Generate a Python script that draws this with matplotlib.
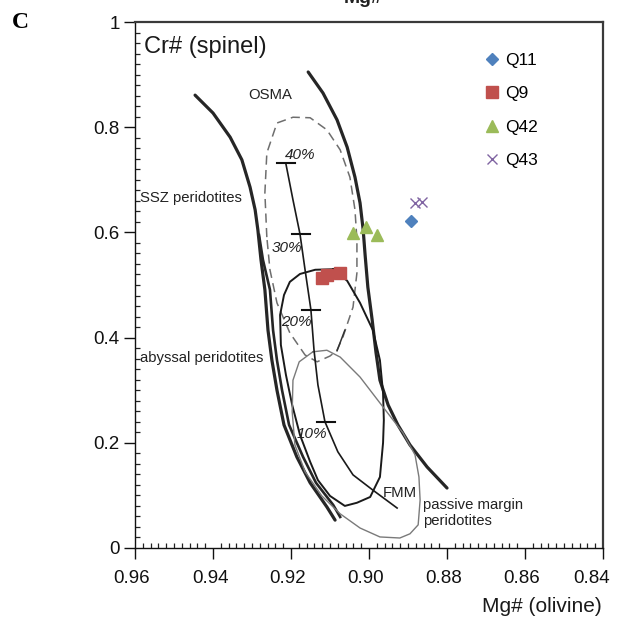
import matplotlib
matplotlib.use("Agg")
import matplotlib.pyplot as plt
from matplotlib.ticker import MultipleLocator, FixedLocator, FuncFormatter
from matplotlib.transforms import ScaledTranslation

plt.rcParams['font.family'] = ['Liberation Sans', 'DejaVu Sans']

# ---------------- sample data ----------------
q11_x = [0.8892]
q11_y = [0.621]
q9_x = [0.9121, 0.9108, 0.9074]
q9_y = [0.513, 0.519, 0.522]
q42_x = [0.9041, 0.9008, 0.8979]
q42_y = [0.599, 0.610, 0.595]
q43_x = [0.8882, 0.8864]
q43_y = [0.656, 0.658]

# ---------------- reference fields (traced) ----------------
osma_left_x = [0.9446, 0.9400, 0.9356, 0.9326, 0.9305, 0.9292, 0.9285, 0.9277, 0.9267,
               0.9259, 0.9249, 0.9236, 0.9218, 0.9185, 0.9151, 0.9108, 0.9087]
osma_left_y = [0.861, 0.827, 0.781, 0.738, 0.686, 0.643, 0.605, 0.548, 0.491,
               0.414, 0.357, 0.300, 0.234, 0.173, 0.124, 0.078, 0.053]

osma_left2_x = [0.9282, 0.9272, 0.9254, 0.9246, 0.9236, 0.9223, 0.9205, 0.9169, 0.9136,
                0.9092, 0.9074]
osma_left2_y = [0.595, 0.548, 0.491, 0.414, 0.357, 0.300, 0.234, 0.173, 0.124,
                0.082, 0.059]

osma_right_x = [0.9156, 0.9118, 0.9082, 0.9056, 0.9036, 0.9023, 0.9015, 0.9010, 0.9003,
                0.8992, 0.8982, 0.8972, 0.8951, 0.8926, 0.8895, 0.8851, 0.8800]
osma_right_y = [0.905, 0.865, 0.814, 0.762, 0.705, 0.656, 0.605, 0.557, 0.496,
                0.434, 0.371, 0.319, 0.272, 0.234, 0.196, 0.154, 0.114]

ssz_x = [0.9262, 0.9267, 0.9262, 0.9236, 0.9195, 0.9151, 0.9108, 0.9074, 0.9049, 0.9036,
         0.9031, 0.9031, 0.9041, 0.9067, 0.9082, 0.9100, 0.9133, 0.9164, 0.9203, 0.9236,
         0.9254, 0.9262]
ssz_y = [0.591, 0.675, 0.751, 0.808, 0.819, 0.818, 0.795, 0.757, 0.705, 0.643,
         0.586, 0.523, 0.458, 0.401, 0.376, 0.365, 0.354, 0.367, 0.409, 0.466,
         0.529, 0.591]

junction_x = [0.9062, 0.9082]
junction_y = [0.414, 0.375]

abyssal_x = [0.9092, 0.9056, 0.9023, 0.8990, 0.8972, 0.8964, 0.8962, 0.8964, 0.8972,
             0.8997, 0.9031, 0.9062, 0.9100, 0.9131, 0.9151, 0.9177, 0.9197, 0.9213,
             0.9226, 0.9228, 0.9218, 0.9203, 0.9177, 0.9138, 0.9092]
abyssal_y = [0.530, 0.508, 0.466, 0.414, 0.357, 0.295, 0.243, 0.200, 0.135,
             0.097, 0.086, 0.080, 0.099, 0.129, 0.164, 0.215, 0.272, 0.329,
             0.386, 0.443, 0.481, 0.506, 0.521, 0.529, 0.530]

passive_x = [0.9144, 0.9108, 0.9074, 0.9023, 0.8964, 0.8913, 0.8882, 0.8872, 0.8869,
             0.8874, 0.8895, 0.8921, 0.8972, 0.9023, 0.9074, 0.9121, 0.9164, 0.9190,
             0.9197, 0.9195, 0.9179, 0.9144]
passive_y = [0.373, 0.376, 0.363, 0.325, 0.268, 0.219, 0.177, 0.135, 0.091,
             0.044, 0.027, 0.019, 0.021, 0.038, 0.065, 0.099, 0.145, 0.196,
             0.259, 0.319, 0.354, 0.373]

melt_x = [0.9213, 0.9195, 0.9177, 0.9164, 0.9149, 0.9141, 0.9131, 0.9113, 0.9080,
          0.9041, 0.8990, 0.8928]
melt_y = [0.730, 0.662, 0.597, 0.529, 0.453, 0.376, 0.310, 0.240, 0.183,
          0.139, 0.110, 0.076]

melt_tick_x = [0.9213, 0.9174, 0.9149, 0.9110]
melt_tick_y = [0.732, 0.597, 0.453, 0.240]
melt_labels = ['40%', '30%', '20%', '10%']
melt_label_x = [0.9177, 0.9210, 0.9187, 0.9146]
melt_label_y = [0.747, 0.570, 0.430, 0.217]

x_ticks = [0.96, 0.94, 0.92, 0.90, 0.88, 0.86, 0.84]
y_ticks = [0, 0.2, 0.4, 0.6, 0.8, 1.0]
y_tick_labels = ['0', '0.2', '0.4', '0.6', '0.8', '1']

# ---------------- figure ----------------
fig = plt.figure(figsize=(6.19, 6.24), dpi=100)
ax = fig.add_axes([0.2181, 0.1218, 0.7561, 0.8429])

thick = dict(color='#262626', lw=2.3, solid_capstyle='round')
ax.plot(osma_left_x, osma_left_y, **thick)
ax.plot(osma_left2_x, osma_left2_y, color='#262626', lw=1.9)
ax.plot(osma_right_x, osma_right_y, **thick)
ax.plot(ssz_x, ssz_y, color='#6e6e6e', lw=1.1, ls=(0, (6, 3.5)))
ax.plot(junction_x, junction_y, color='#333333', lw=1.1)
ax.plot(abyssal_x, abyssal_y, color='#1a1a1a', lw=1.4)
ax.plot(passive_x, passive_y, color='#7a7a7a', lw=1.0)
ax.plot(melt_x, melt_y, color='#1a1a1a', lw=1.2)
half = 0.0023
for tx, ty in zip(melt_tick_x, melt_tick_y):
    ax.plot([tx + half, tx - half], [ty, ty], color='#111111', lw=1.5)
for lbl, lx, ly in zip(melt_labels, melt_label_x, melt_label_y):
    ax.text(lx, ly, lbl, fontsize=11, style='italic', ha='center', va='center',
            color='#222222')

# field labels
lab = dict(fontsize=10.7, color='#222222', va='center', ha='left')
ax.text(0.9310, 0.861, 'OSMA', **lab)
ax.text(0.9587, 0.665, 'SSZ peridotites', **lab)
ax.text(0.9587, 0.361, 'abyssal peridotites', **lab)
ax.text(0.8964, 0.1046, 'FMM', **lab)
ax.text(0.8862, 0.0817, 'passive margin', **lab)
ax.text(0.8862, 0.0513, 'peridotites', **lab)
ax.text(0.019, 0.953, 'Cr# (spinel)', transform=ax.transAxes, fontsize=17,
        color='#1a1a1a', va='center', ha='left')

# samples
ax.plot(q11_x, q11_y, ls='none', marker='D', ms=6.5, color='#4F81BD', label='Q11')
ax.plot(q9_x, q9_y, ls='none', marker='s', ms=8.5, color='#C0504D', label='Q9')
ax.plot(q42_x, q42_y, ls='none', marker='^', ms=9, color='#9BBB59', label='Q42')
ax.plot(q43_x, q43_y, ls='none', marker='x', ms=7.5, mew=1.0, color='#8064A2', label='Q43')

leg = ax.legend(loc='upper left', bbox_to_anchor=(0.748, 0.942), frameon=False,
                fontsize=12.5, handlelength=0.8, handletextpad=0.35,
                labelspacing=1.06, borderpad=0, borderaxespad=0)

ax.set_xlim(0.96, 0.84)
ax.set_ylim(0, 1)
ax.xaxis.set_major_locator(FixedLocator(x_ticks))
ax.xaxis.set_major_formatter(FuncFormatter(lambda v, p: f'{v:.2f}'))
ax.xaxis.set_minor_locator(MultipleLocator(0.002))
ax.yaxis.set_major_locator(FixedLocator(y_ticks))
ax.set_yticklabels(y_tick_labels)
ax.yaxis.set_minor_locator(MultipleLocator(0.02))
ax.tick_params(which='major', direction='out', length=8, width=1.0, labelsize=13.5,
               pad=3, colors='#111111')
ax.tick_params(which='minor', direction='in', length=3.5, width=0.9, colors='#222222')
ax.tick_params(axis='x', which='major', pad=8)

xlabels = ax.get_xticklabels()
for i, t in enumerate(xlabels):
    dx = -11 if i == len(xlabels) - 1 else -3
    t.set_transform(t.get_transform() + ScaledTranslation(dx / 100, 0, fig.dpi_scale_trans))

for s in ['left', 'bottom']:
    ax.spines[s].set_color('#111111')
    ax.spines[s].set_linewidth(1.0)
for s in ['top', 'right']:
    ax.spines[s].set_color('#3a3a3a')
    ax.spines[s].set_linewidth(1.6)

fig.text(542 / 619, 1 - 607 / 624, 'Mg# (olivine)', fontsize=15, ha='center',
         va='center', color='#1a1a1a')
fig.text(20 / 619, 1 - 23 / 624, 'C', fontsize=17, fontweight='bold',
         family=['Liberation Serif', 'DejaVu Serif'], ha='center', va='center')
fig.text(363 / 619, 1 - 3 / 624, 'Mg#', fontsize=14, fontweight='bold', ha='center',
         va='baseline', color='#222222')

fig.savefig('out.png', dpi=100)
